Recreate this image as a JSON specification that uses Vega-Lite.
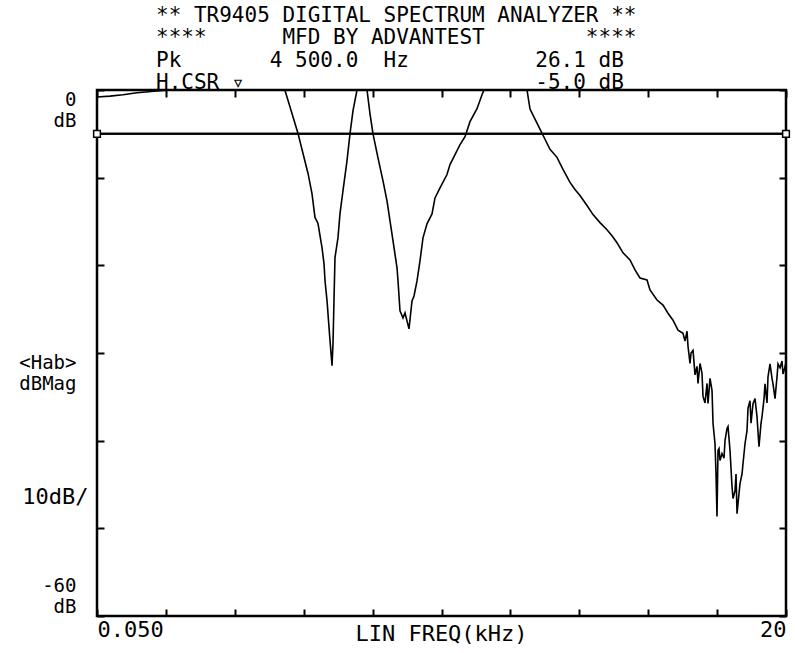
{
  "$schema": "https://vega.github.io/schema/vega-lite/v6.json",
  "width": 689,
  "height": 526,
  "autosize": {"type": "none"},
  "padding": {"left": 97, "top": 90, "right": 9, "bottom": 37},
  "background": "white",
  "title": {
    "text": ["** TR9405 DIGITAL SPECTRUM ANALYZER **", "****\u00a0\u00a0\u00a0\u00a0\u00a0\u00a0MFD BY ADVANTEST\u00a0\u00a0\u00a0\u00a0\u00a0\u00a0\u00a0\u00a0****"],
    "subtitle": ["\u00a0Pk\u00a0\u00a0\u00a0\u00a0\u00a0\u00a0\u00a04 500.0\u00a0\u00a0Hz\u00a0\u00a0\u00a0\u00a0\u00a0\u00a0\u00a0\u00a0\u00a0\u00a026.1 dB", "\u00a0H.CSR\u00a0\u25bf\u00a0\u00a0\u00a0\u00a0\u00a0\u00a0\u00a0\u00a0\u00a0\u00a0\u00a0\u00a0\u00a0\u00a0\u00a0\u00a0\u00a0\u00a0\u00a0\u00a0\u00a0\u00a0\u00a0-5.0 dB"],
    "anchor": "start",
    "frame": "group",
    "dx": 59,
    "offset": -4,
    "font": "DejaVu Sans Mono",
    "fontSize": 21,
    "fontWeight": "normal",
    "lineHeight": 22,
    "color": "black",
    "subtitleFont": "DejaVu Sans Mono",
    "subtitleFontSize": 21,
    "subtitleFontWeight": "normal",
    "subtitleLineHeight": 22,
    "subtitleColor": "black",
    "subtitlePadding": 2
  },
  "datasets": {
    "trace": [
      {"f": 0.05, "db": -0.8}, {"f": 0.426, "db": -0.7}, {"f": 0.803, "db": -0.54}, {"f": 1.208, "db": -0.32},
      {"f": 1.787, "db": -0.11}, {"f": 2.164, "db": 0}, {"f": 3.03, "db": 0}, {"f": 4.48, "db": 0}, {"f": 5.49, "db": 0},
      {"f": 5.696, "db": -2.67}, {"f": 5.87, "db": -4.95}, {"f": 6.015, "db": -7.24}, {"f": 6.16, "db": -9.52},
      {"f": 6.275, "db": -11.81}, {"f": 6.362, "db": -14.54}, {"f": 6.449, "db": -15.23}, {"f": 6.565, "db": -17.98},
      {"f": 6.623, "db": -19.8}, {"f": 6.652, "db": -21.74}, {"f": 6.71, "db": -24.02}, {"f": 6.797, "db": -28.59},
      {"f": 6.855, "db": -31.44}, {"f": 6.883, "db": -28.93}, {"f": 6.912, "db": -24.02}, {"f": 6.941, "db": -19.12},
      {"f": 7.028, "db": -16.84}, {"f": 7.086, "db": -14.1}, {"f": 7.173, "db": -11.48}, {"f": 7.289, "db": -8.05},
      {"f": 7.376, "db": -4.97}, {"f": 7.463, "db": -2.35}, {"f": 7.578, "db": 0}, {"f": 7.868, "db": 0},
      {"f": 7.955, "db": -2.73}, {"f": 8.042, "db": -5.01}, {"f": 8.186, "db": -7.75}, {"f": 8.331, "db": -10.37},
      {"f": 8.447, "db": -12.65}, {"f": 8.534, "db": -14.93}, {"f": 8.621, "db": -17.21}, {"f": 8.737, "db": -20.29},
      {"f": 8.766, "db": -21.78}, {"f": 8.823, "db": -25.2}, {"f": 8.91, "db": -26.0}, {"f": 8.968, "db": -25.43},
      {"f": 9.026, "db": -26.34}, {"f": 9.084, "db": -27.25}, {"f": 9.171, "db": -24.06}, {"f": 9.229, "db": -23.49},
      {"f": 9.316, "db": -21.78}, {"f": 9.402, "db": -19.5}, {"f": 9.489, "db": -16.87}, {"f": 9.605, "db": -15.27},
      {"f": 9.75, "db": -14.13}, {"f": 9.837, "db": -12.31}, {"f": 9.982, "db": -11.17}, {"f": 10.184, "db": -9.64},
      {"f": 10.271, "db": -8.5}, {"f": 10.416, "db": -7.37}, {"f": 10.561, "db": -6.23}, {"f": 10.706, "db": -5.32},
      {"f": 10.85, "db": -3.61}, {"f": 11.053, "db": -2.13}, {"f": 11.198, "db": -0.54}, {"f": 11.256, "db": 0},
      {"f": 12.501, "db": 0}, {"f": 12.588, "db": -2.18}, {"f": 12.732, "db": -3.33}, {"f": 12.877, "db": -4.47},
      {"f": 13.022, "db": -5.62}, {"f": 13.167, "db": -6.76}, {"f": 13.369, "db": -7.68}, {"f": 13.543, "db": -9.06},
      {"f": 13.746, "db": -10.54}, {"f": 13.89, "db": -11.35}, {"f": 14.035, "db": -12.04}, {"f": 14.238, "db": -13.18},
      {"f": 14.412, "db": -14.21}, {"f": 14.614, "db": -15.13}, {"f": 14.817, "db": -15.94}, {"f": 14.962, "db": -16.62},
      {"f": 15.107, "db": -17.43}, {"f": 15.281, "db": -18.57}, {"f": 15.483, "db": -19.38}, {"f": 15.628, "db": -20.52},
      {"f": 15.773, "db": -21.44}, {"f": 15.975, "db": -21.67}, {"f": 16.062, "db": -22.81}, {"f": 16.265, "db": -23.96},
      {"f": 16.439, "db": -24.54}, {"f": 16.583, "db": -25.46}, {"f": 16.728, "db": -26.26}, {"f": 16.873, "db": -27.4},
      {"f": 17.018, "db": -27.75}, {"f": 17.076, "db": -28.65}, {"f": 17.134, "db": -27.52}, {"f": 17.163, "db": -29.24},
      {"f": 17.221, "db": -31.18}, {"f": 17.25, "db": -30.0}, {"f": 17.308, "db": -29.7}, {"f": 17.366, "db": -32.5},
      {"f": 17.423, "db": -31.52}, {"f": 17.452, "db": -33.46}, {"f": 17.511, "db": -31.2}, {"f": 17.568, "db": -32.33},
      {"f": 17.597, "db": -34.95}, {"f": 17.655, "db": -35.7}, {"f": 17.713, "db": -33.47}, {"f": 17.742, "db": -35.75},
      {"f": 17.8, "db": -32.9}, {"f": 17.858, "db": -34.28}, {"f": 17.887, "db": -38.04}, {"f": 17.944, "db": -40.32},
      {"f": 17.973, "db": -43.7}, {"f": 18.002, "db": -48.65}, {"f": 18.031, "db": -41.12}, {"f": 18.06, "db": -40.9},
      {"f": 18.089, "db": -42.26}, {"f": 18.147, "db": -41.47}, {"f": 18.205, "db": -42.0}, {"f": 18.234, "db": -39.99},
      {"f": 18.292, "db": -38.6}, {"f": 18.321, "db": -38.39}, {"f": 18.379, "db": -41.13}, {"f": 18.437, "db": -45.24},
      {"f": 18.466, "db": -46.6}, {"f": 18.524, "db": -45.7}, {"f": 18.553, "db": -43.8}, {"f": 18.582, "db": -48.33},
      {"f": 18.639, "db": -46.05}, {"f": 18.668, "db": -44.91}, {"f": 18.727, "db": -43.8}, {"f": 18.755, "db": -42.63},
      {"f": 18.813, "db": -40.35}, {"f": 18.871, "db": -38.86}, {"f": 18.9, "db": -36.3}, {"f": 18.958, "db": -35.45},
      {"f": 18.987, "db": -38.0}, {"f": 19.045, "db": -35.79}, {"f": 19.103, "db": -35.2}, {"f": 19.161, "db": -37.28},
      {"f": 19.218, "db": -40.7}, {"f": 19.277, "db": -38.0}, {"f": 19.305, "db": -37.28}, {"f": 19.364, "db": -35.2},
      {"f": 19.392, "db": -33.52}, {"f": 19.45, "db": -35.7}, {"f": 19.479, "db": -32.73}, {"f": 19.537, "db": -31.24},
      {"f": 19.595, "db": -32.9}, {"f": 19.624, "db": -33.53}, {"f": 19.682, "db": -35.2}, {"f": 19.74, "db": -32.73},
      {"f": 19.769, "db": -31.25}, {"f": 19.827, "db": -31.7}, {"f": 19.884, "db": -30.91}, {"f": 19.913, "db": -32.39},
      {"f": 19.971, "db": -31.6}, {"f": 20.0, "db": -31.0}
    ],
    "cursor": [{"f": 0.05, "db": -5}, {"f": 20, "db": -5}]
  },
  "layer": [
    {
      "data": {"name": "trace"},
      "mark": {"type": "line", "color": "black", "strokeWidth": 1.6, "clip": true},
      "encoding": {
        "x": {
          "field": "f", "type": "quantitative",
          "scale": {"domain": [0.05, 20], "nice": false, "zero": false},
          "axis": {
            "orient": "bottom",
            "values": [0.05, 2.045, 4.04, 6.035, 8.03, 10.025, 12.02, 14.015, 16.01, 18.005, 20],
            "labelExpr": "datum.value < 1 ? '0.050' : (datum.value > 19 ? '20' : '')",
            "labelFlush": true,
            "labelBaseline": "top",
            "labelPadding": 10,
            "tickSize": -7,
            "title": "LIN FREQ(kHz)",
            "titleX": 344,
            "titleY": 17,
            "titleAlign": "center",
            "titleBaseline": "middle"
          }
        },
        "y": {
          "field": "db", "type": "quantitative",
          "scale": {"domain": [-60, 0], "nice": false, "zero": false},
          "axis": {
            "orient": "left",
            "values": [0, -10, -20, -30, -40, -50, -60],
            "labelExpr": "datum.value == 0 ? ['0', 'dB'] : (datum.value == -30 ? ['<Hab>', 'dBMag'] : (datum.value == -60 ? ['-60', 'dB'] : ''))",
            "labelBaseline": {"condition": {"test": "datum.value == -60", "value": "bottom"}, "value": "top"},
            "labelOffset": {"condition": {"test": "datum.value == -60", "value": -21}, "value": 0},
            "labelAlign": "right",
            "labelFontSize": 19,
            "labelLineHeight": 21,
            "labelPadding": 28,
            "tickSize": -7,
            "title": "10dB/",
            "titleAngle": 0,
            "titleAlign": "right",
            "titleBaseline": "middle",
            "titleX": -9,
            "titleY": 406
          }
        }
      }
    },
    {
      "data": {"name": "cursor"},
      "mark": {"type": "rule", "color": "black", "strokeWidth": 2},
      "encoding": {"y": {"field": "db", "type": "quantitative", "axis": null}}
    },
    {
      "data": {"name": "cursor"},
      "mark": {"type": "point", "shape": "square", "size": 45, "filled": false, "fill": "white", "fillOpacity": 1, "stroke": "black", "strokeWidth": 1.5, "opacity": 1},
      "encoding": {
        "x": {"field": "f", "type": "quantitative", "axis": null},
        "y": {"field": "db", "type": "quantitative", "axis": null}
      }
    },
    {
      "data": {"name": "cursor"},
      "mark": {"type": "point", "opacity": 0},
      "encoding": {
        "x": {
          "field": "f", "type": "quantitative",
          "axis": {"orient": "top", "values": [0.05, 2.045, 4.04, 6.035, 8.03, 10.025, 12.02, 14.015, 16.01, 18.005, 20], "labels": false, "tickSize": -7, "title": null}
        },
        "y": {
          "field": "db", "type": "quantitative",
          "axis": {"orient": "right", "values": [0, -10, -20, -30, -40, -50, -60], "labels": false, "tickSize": -7, "title": null}
        }
      }
    }
  ],
  "resolve": {"axis": {"x": "independent", "y": "independent"}},
  "config": {
    "view": {"stroke": "black", "strokeWidth": 2.5},
    "axis": {
      "domain": false,
      "grid": false,
      "ticks": true,
      "tickColor": "black",
      "tickWidth": 2,
      "labelColor": "black",
      "labelFont": "DejaVu Sans Mono",
      "labelFontSize": 22,
      "titleColor": "black",
      "titleFont": "DejaVu Sans Mono",
      "titleFontSize": 22,
      "titleFontWeight": "normal"
    }
  }
}
